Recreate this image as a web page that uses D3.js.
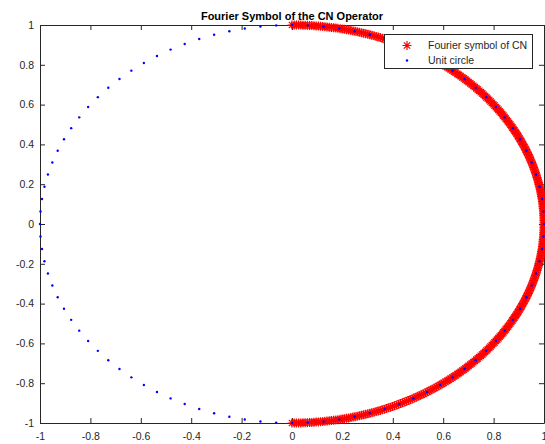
<!DOCTYPE html>
<html>
<head>
<meta charset="utf-8">
<script src="https://cdn.jsdelivr.net/npm/d3@7"></script>
<style>
  html, body { margin: 0; padding: 0; background: #fff; }
  svg { display: block; font-family: "Liberation Sans", Arial, Helvetica, sans-serif; }
</style>
</head>
<body>
<svg id="chart" width="545" height="444"></svg>
<script>
// ---- data ----
const title = "Fourier Symbol of the CN Operator";
const seriesNames = ["Fourier symbol of CN", "Unit circle"];
const xTickValues = [-1, -0.8, -0.6, -0.4, -0.2, 0, 0.2, 0.4, 0.6, 0.8, 1];
const xTickLabels = ["-1", "-0.8", "-0.6", "-0.4", "-0.2", "0", "0.2", "0.4", "0.6", "0.8", "1"];
const yTickValues = [-1, -0.8, -0.6, -0.4, -0.2, 0, 0.2, 0.4, 0.6, 0.8, 1];
const yTickLabels = ["-1", "-0.8", "-0.6", "-0.4", "-0.2", "0", "0.2", "0.4", "0.6", "0.8", "1"];
// phase angles (degrees) of the CN amplification factor, all on |g| = 1
const cnPhaseDeg = [
 90,89.5,89,88.5,88,87.5,87,86.5,86,85.5,85,84.5,84,83.5,83,82.5,82,81.5,81,80.5,
 80,79.5,79,78.5,78,77.5,77,76.5,76,75.5,75,74.5,74,73.5,73,72.5,72,71.5,71,70.5,
 70,69.5,69,68.5,68,67.5,67,66.5,66,65.5,65,64.5,64,63.5,63,62.5,62,61.5,61,60.5,
 60,59.5,59,58.5,58,57.5,57,56.5,56,55.5,55,54.5,54,53.5,53,52.5,52,51.5,51,50.5,
 50,49.5,49,48.5,48,47.5,47,46.5,46,45.5,45,44.5,44,43.5,43,42.5,42,41.5,41,40.5,
 40,39.5,39,38.5,38,37.5,37,36.5,36,35.5,35,34.5,34,33.5,33,32.5,32,31.5,31,30.5,
 30,29.5,29,28.5,28,27.5,27,26.5,26,25.5,25,24.5,24,23.5,23,22.5,22,21.5,21,20.5,
 20,19.5,19,18.5,18,17.5,17,16.5,16,15.5,15,14.5,14,13.5,13,12.5,12,11.5,11,10.5,
 10,9.5,9,8.5,8,7.5,7,6.5,6,5.5,5,4.5,4,3.5,3,2.5,2,1.5,1,0.5,
 0,-0.5,-1,-1.5,-2,-2.5,-3,-3.5,-4,-4.5,-5,-5.5,-6,-6.5,-7,-7.5,-8,-8.5,-9,-9.5,
 -10,-10.5,-11,-11.5,-12,-12.5,-13,-13.5,-14,-14.5,-15,-15.5,-16,-16.5,-17,-17.5,-18,-18.5,-19,-19.5,
 -20,-20.5,-21,-21.5,-22,-22.5,-23,-23.5,-24,-24.5,-25,-25.5,-26,-26.5,-27,-27.5,-28,-28.5,-29,-29.5,
 -30,-30.5,-31,-31.5,-32,-32.5,-33,-33.5,-34,-34.5,-35,-35.5,-36,-36.5,-37,-37.5,-38,-38.5,-39,-39.5,
 -40,-40.5,-41,-41.5,-42,-42.5,-43,-43.5,-44,-44.5,-45,-45.5,-46,-46.5,-47,-47.5,-48,-48.5,-49,-49.5,
 -50,-50.5,-51,-51.5,-52,-52.5,-53,-53.5,-54,-54.5,-55,-55.5,-56,-56.5,-57,-57.5,-58,-58.5,-59,-59.5,
 -60,-60.5,-61,-61.5,-62,-62.5,-63,-63.5,-64,-64.5,-65,-65.5,-66,-66.5,-67,-67.5,-68,-68.5,-69,-69.5,
 -70,-70.5,-71,-71.5,-72,-72.5,-73,-73.5,-74,-74.5,-75,-75.5,-76,-76.5,-77,-77.5,-78,-78.5,-79,-79.5,
 -80,-80.5,-81,-81.5,-82,-82.5,-83,-83.5,-84,-84.5,-85,-85.5,-86,-86.5,-87,-87.5,-88,-88.5,-89,-89.5,
 -90];
// angles (degrees) of the unit-circle sample points
const circleDeg = [0,3.6,7.2,10.8,14.4,18,21.6,25.2,28.8,32.4,36,39.6,43.2,46.8,50.4,54,57.6,61.2,64.8,68.4,72,75.6,79.2,82.8,86.4,90,93.6,97.2,100.8,104.4,108,111.6,115.2,118.8,122.4,126,129.6,133.2,136.8,140.4,144,147.6,151.2,154.8,158.4,162,165.6,169.2,172.8,176.4,180,183.6,187.2,190.8,194.4,198,201.6,205.2,208.8,212.4,216,219.6,223.2,226.8,230.4,234,237.6,241.2,244.8,248.4,252,255.6,259.2,262.8,266.4,270,273.6,277.2,280.8,284.4,288,291.6,295.2,298.8,302.4,306,309.6,313.2,316.8,320.4,324,327.6,331.2,334.8,338.4,342,345.6,349.2,352.8,356.4];

// ---- layout ----
const L = 40, R = 544, T = 25, B = 423;
const axisColor = "#262626";
const svg = d3.select("#chart");
const x = d3.scaleLinear().domain([-1, 1]).range([L, R]);
const y = d3.scaleLinear().domain([-1, 1]).range([B, T]);
const rad = d => d * Math.PI / 180;

const cnPts = cnPhaseDeg.map(d => ({ re: Math.cos(rad(d)), im: Math.sin(rad(d)) }));
const circPts = circleDeg.map(d => ({ re: Math.cos(rad(d)), im: Math.sin(rad(d)) }));

// ---- axes (box, inward ticks) ----
function styleAxis(g) {
  g.selectAll(".domain").attr("stroke", axisColor).attr("stroke-width", 1);
  g.selectAll(".tick line").attr("stroke", axisColor).attr("stroke-width", 1);
  g.selectAll(".tick text").attr("fill", axisColor).style("font-size", "10.5px");
  g.attr("font-family", null);
}
svg.append("g").attr("transform", `translate(0,${B})`)
  .call(d3.axisBottom(x).tickValues(xTickValues).tickFormat((d, i) => xTickLabels[i])
    .tickSizeInner(-5).tickSizeOuter(0).tickPadding(9.5))
  .call(styleAxis);
svg.append("g").attr("transform", `translate(0,${T})`)
  .call(d3.axisTop(x).tickValues(xTickValues).tickFormat("")
    .tickSizeInner(-5).tickSizeOuter(0))
  .call(styleAxis);
svg.append("g").attr("transform", `translate(${L},0)`)
  .call(d3.axisLeft(y).tickValues(yTickValues).tickFormat((d, i) => yTickLabels[i])
    .tickSizeInner(-5).tickSizeOuter(0).tickPadding(6))
  .call(styleAxis);
svg.append("g").attr("transform", `translate(${R},0)`)
  .call(d3.axisRight(y).tickValues(yTickValues).tickFormat("")
    .tickSizeInner(-5).tickSizeOuter(0))
  .call(styleAxis);

// ---- markers ----
function asterisk(r) {
  const d = r * Math.SQRT1_2;
  return `M${-r},0L${r},0M0,${-r}L0,${r}M${-d},${-d}L${d},${d}M${-d},${d}L${d},${-d}`;
}
const astPath = asterisk(4.5);

svg.append("g").selectAll("path").data(cnPts).join("path")
  .attr("transform", d => `translate(${x(d.re)},${y(d.im)})`)
  .attr("d", astPath).attr("stroke", "#ff0000").attr("stroke-width", 1.2).attr("fill", "none");

svg.append("g").selectAll("circle").data(circPts).join("circle")
  .attr("cx", d => x(d.re)).attr("cy", d => y(d.im)).attr("r", 1.2)
  .attr("fill", "#0000ff");

// ---- title ----
svg.append("text").attr("x", (L + R) / 2).attr("y", 20).attr("text-anchor", "middle")
  .style("font-size", "11px").style("font-weight", "bold").attr("fill", "#000").text(title);

// ---- legend ----
const lg = svg.append("g");
lg.append("rect").attr("x", 384.5).attr("y", 34.5).attr("width", 148).attr("height", 34)
  .attr("fill", "#fff").attr("stroke", axisColor).attr("stroke-width", 1);
const rows = [45.5, 60.5];
lg.append("path").attr("transform", `translate(407,${rows[0]})`).attr("d", astPath)
  .attr("stroke", "#ff0000").attr("stroke-width", 1.2).attr("fill", "none");
lg.append("circle").attr("cx", 407).attr("cy", rows[1]).attr("r", 1.2).attr("fill", "#0000ff");
seriesNames.forEach((n, i) => {
  lg.append("text").attr("x", 428).attr("y", rows[i] + 3.7).style("font-size", "10.5px")
    .attr("fill", axisColor).text(n);
});
</script>
</body>
</html>
